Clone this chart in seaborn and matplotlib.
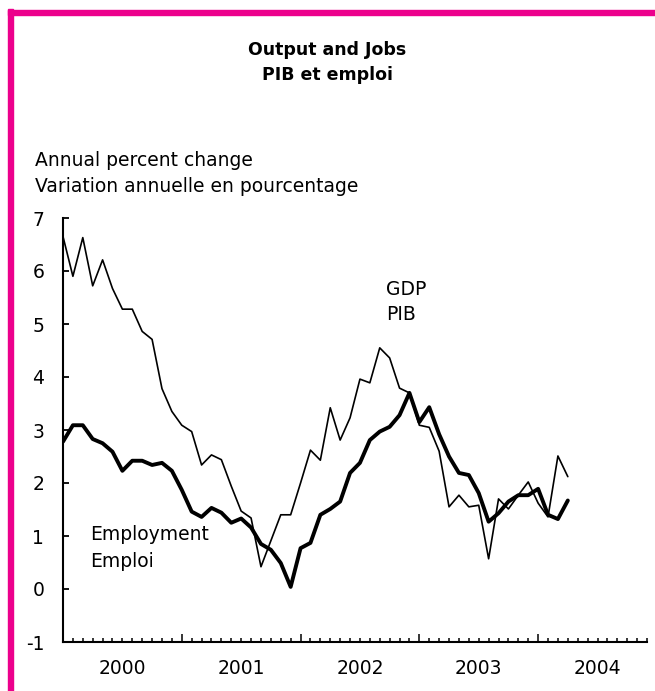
import numpy as np
import pandas as pd
import matplotlib
matplotlib.use("Agg")
import matplotlib.pyplot as plt
from matplotlib.patches import Rectangle
import seaborn as sns

# ---- data (monthly, Jan 2000 .. Apr 2004), annual % change ----
start_month = "2000-01"
gdp = [6.65, 5.90, 6.63, 5.72, 6.21, 5.67, 5.28, 5.28, 4.86, 4.71,
       3.78, 3.35, 3.09, 2.97, 2.34, 2.53, 2.44, 1.94, 1.47, 1.34,
       0.42, 0.91, 1.40, 1.40, 2.00, 2.62, 2.43, 3.42, 2.81, 3.23,
       3.96, 3.89, 4.55, 4.36, 3.79, 3.70, 3.09, 3.05, 2.60, 1.55,
       1.77, 1.55, 1.58, 0.57, 1.70, 1.51, 1.77, 2.02, 1.62, 1.36,
       2.51, 2.12]
employment = [2.78, 3.09, 3.09, 2.83, 2.75, 2.59, 2.23, 2.42, 2.42, 2.34,
              2.38, 2.23, 1.87, 1.46, 1.36, 1.53, 1.44, 1.25, 1.33, 1.16,
              0.85, 0.74, 0.49, 0.04, 0.77, 0.87, 1.40, 1.51, 1.65, 2.19,
              2.38, 2.81, 2.97, 3.06, 3.28, 3.70, 3.15, 3.43, 2.92, 2.50,
              2.19, 2.15, 1.81, 1.27, 1.43, 1.65, 1.77, 1.77, 1.89, 1.40,
              1.32, 1.67]
years = ["2000", "2001", "2002", "2003", "2004"]
yticks = [-1, 0, 1, 2, 3, 4, 5, 6, 7]

title_lines = ["Output and Jobs", "PIB et emploi"]
yaxis_lines = ["Annual percent change", "Variation annuelle en pourcentage"]

months = np.arange(len(gdp))  # month index from Jan 2000
df = pd.DataFrame({"month": months, "gdp": gdp, "employment": employment})

sns.set_theme(style="white")
plt.rcParams["font.family"] = ["DejaVu Sans"]

W, H = 655, 691
fig = plt.figure(figsize=(W / 100, H / 100), dpi=100)
fig.patch.set_facecolor("white")

# axes geometry (pixels)
x0, x1 = 63, 647
y_top, y_bot = 218, 642
ax = fig.add_axes([x0 / W, 1 - y_bot / H, (x1 - x0) / W, (y_bot - y_top) / H])
ax.set_facecolor("white")

sns.lineplot(data=df, x="month", y="gdp", ax=ax, color="black", linewidth=1.2,
             solid_joinstyle="round")
sns.lineplot(data=df, x="month", y="employment", ax=ax, color="black",
             linewidth=2.8, solid_joinstyle="round", solid_capstyle="round")

ax.set_xlim(0, 59)
ax.set_ylim(-1, 7)
ax.set_xlabel("")
ax.set_ylabel("")

for s in ["top", "right"]:
    ax.spines[s].set_visible(False)
for s in ["left", "bottom"]:
    ax.spines[s].set_color("black")
    ax.spines[s].set_linewidth(1.5)

ax.set_yticks(yticks)
ax.set_yticklabels([str(v) for v in yticks])
ax.tick_params(axis="y", direction="in", length=4.5, width=1.3, pad=13.5,
               labelsize=13.5, colors="black", left=True)

ax.set_xticks([12 * k for k in range(1, len(years))])
ax.set_xticklabels([])
ax.set_xticks([m for m in range(1, 60) if m % 12 != 0], minor=True)
ax.tick_params(axis="x", which="major", direction="in", length=5.5, width=1.3,
               bottom=True)
ax.tick_params(axis="x", which="minor", direction="in", length=3, width=1.3,
               bottom=True)

trans = ax.get_xaxis_transform()
for k, yr in enumerate(years):
    ax.text(12 * k + 6, -0.04, yr, transform=trans, ha="center", va="top",
            fontsize=13.5, color="black")

# series labels
ax.text(32.6, 5.66, "GDP", ha="left", va="center", fontsize=13.5, color="black")
ax.text(32.6, 5.17, "PIB", ha="left", va="center", fontsize=13.5, color="black")
ax.text(2.7, 1.02, "Employment", ha="left", va="center", fontsize=13.5, color="black")
ax.text(2.7, 0.51, "Emploi", ha="left", va="center", fontsize=13.5, color="black")

# titles
fig.text(0.5, 1 - 50 / H, title_lines[0], ha="center", va="center",
         fontsize=12.5, fontweight="bold", color="black")
fig.text(0.5, 1 - 75 / H, title_lines[1], ha="center", va="center",
         fontsize=12.5, fontweight="bold", color="black")

fig.text(35 / W, 1 - 160 / H, yaxis_lines[0], ha="left", va="center",
         fontsize=13.5, color="black")
fig.text(35 / W, 1 - 186 / H, yaxis_lines[1], ha="left", va="center",
         fontsize=13.5, color="black")

# magenta frame (top and left edges visible)
pink = "#EC008C"
fig.patches.append(Rectangle((7.5 / W, -0.05), 5 / W, 1 - 9.5 / H + 0.05,
                             transform=fig.transFigure, color=pink, zorder=10))
fig.patches.append(Rectangle((7.5 / W, 1 - 14.5 / H), 1.0, 5 / H,
                             transform=fig.transFigure, color=pink, zorder=10))

fig.savefig("out.png", dpi=100, facecolor="white")
